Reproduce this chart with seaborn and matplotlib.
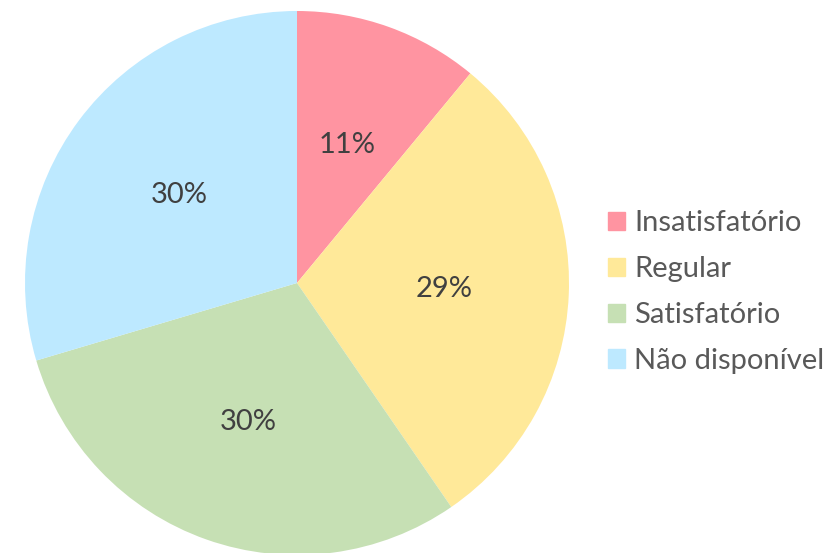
import matplotlib
matplotlib.use("Agg")
import matplotlib.pyplot as plt
import matplotlib.patches as mpatches
import seaborn as sns

# data
categories = ["Insatisfatório", "Regular", "Satisfatório", "Não disponível"]
shares = [11.0, 29.4, 30.0, 29.6]
colors = ["#FF94A1", "#FFE999", "#C6E0B4", "#BDE9FF"]

sns.set_theme(style="white")
plt.rcParams["font.family"] = ["Lato", "DejaVu Sans"]

fig = plt.figure(figsize=(8.31, 5.53), dpi=100)
W, H = 831, 553
cx, cy, r = 297, 283, 272
ax = fig.add_axes([(cx - r) / W, (H - cy - r) / H, 2 * r / W, 2 * r / H])

wedges, texts, autotexts = ax.pie(
    shares, colors=colors, startangle=90, counterclock=False,
    autopct="%.0f%%", pctdistance=0.54, radius=1,
    wedgeprops=dict(linewidth=0),
    textprops=dict(color="#404040", fontsize=21),
)
ax.set_xlim(-1, 1)
ax.set_ylim(-1, 1)
ax.set_aspect("equal")
ax.axis("off")

handles = [mpatches.Patch(color=c, label=l) for c, l in zip(colors, categories)]
fig.legend(handles=handles, loc="center left", bbox_to_anchor=(608 / W, 1 - 292 / H),
           frameon=False, fontsize=21, handlelength=0.58, handleheight=0.58,
           handletextpad=0.32, labelspacing=0.68, borderpad=0, borderaxespad=0,
           labelcolor="#595959")

fig.savefig("out.png", dpi=100)
